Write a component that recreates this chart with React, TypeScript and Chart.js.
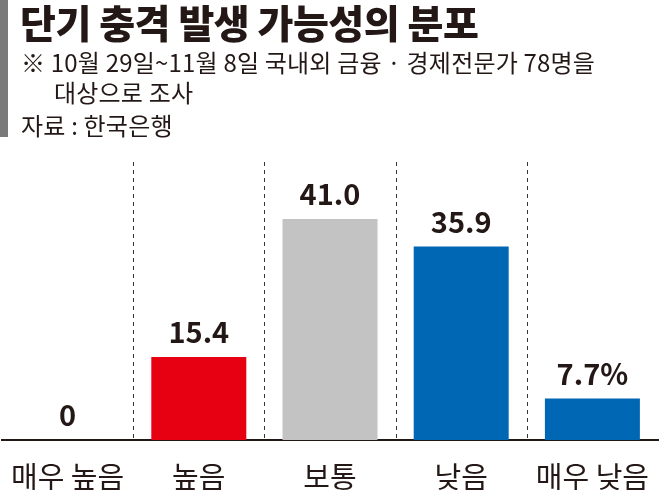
import React, { useEffect, useRef } from "react";
import { Chart, registerables } from "chart.js";

Chart.register(...registerables);

const categories = ["매우 높음", "높음", "보통", "낮음", "매우 낮음"];
const values = [0, 15.4, 41.0, 35.9, 7.7];
const valueLabels = ["0", "15.4", "41.0", "35.9", "7.7%"];
const barColors = ["#e60012", "#e60012", "#c3c3c3", "#0067b5", "#0067b5"];

const TITLE = "단기 충격 발생 가능성의 분포";
const NOTE1 = "※ 10월 29일~11월 8일 국내외 금융 · 경제전문가 78명을";
const NOTE2 = "대상으로 조사";
const SOURCE = "자료 : 한국은행";

const FONT = "'Noto Sans CJK KR', 'Noto Sans', sans-serif";

const extrasPlugin = {
  id: "extras",
  beforeDatasetsDraw(chart: any) {
    const { ctx, chartArea, scales } = chart;
    const x = scales.x;
    ctx.save();
    ctx.strokeStyle = "#333";
    ctx.lineWidth = 1;
    ctx.setLineDash([4, 4]);
    for (let i = 0; i < categories.length - 1; i++) {
      const px = Math.round((x.getPixelForValue(i) + x.getPixelForValue(i + 1)) / 2) + 0.5;
      ctx.beginPath();
      ctx.moveTo(px, chartArea.top);
      ctx.lineTo(px, chartArea.bottom);
      ctx.stroke();
    }
    ctx.restore();
  },
  afterDatasetsDraw(chart: any) {
    const { ctx, chartArea, scales } = chart;
    const meta = chart.getDatasetMeta(0);
    ctx.save();
    ctx.fillStyle = "#231815";
    ctx.font = `700 29px ${FONT}`;
    ctx.textAlign = "center";
    ctx.textBaseline = "alphabetic";
    meta.data.forEach((bar: any, i: number) => {
      ctx.fillText(valueLabels[i], bar.x, bar.y - 14);
    });
    ctx.font = `400 29px ${FONT}`;
    ctx.textBaseline = "middle";
    categories.forEach((c, i) => {
      ctx.fillText(c, scales.x.getPixelForValue(i), chartArea.bottom + 37);
    });
    ctx.restore();
  },
};

export default function App() {
  const ref = useRef<HTMLCanvasElement | null>(null);
  useEffect(() => {
    if (!ref.current) return;
    const chart = new Chart(ref.current, {
      type: "bar",
      data: {
        labels: categories,
        datasets: [
          {
            data: values,
            backgroundColor: barColors,
            borderWidth: 0,
            categoryPercentage: 1,
            barPercentage: 0.724,
          },
        ],
      },
      options: {
        animation: false,
        responsive: false,
        maintainAspectRatio: false,
        layout: { padding: { left: 2, right: 1, top: 162, bottom: 50 } },
        plugins: { legend: { display: false }, tooltip: { enabled: false }, title: { display: false } },
        scales: {
          x: {
            grid: { display: false, drawTicks: false, tickLength: 0 },
            border: { display: true, color: "#231815", width: 2 },
            ticks: { display: false, padding: 0 },
          },
          y: {
            display: false,
            min: 0,
            max: 51.6,
          },
        },
      },
      plugins: [extrasPlugin],
    });
    return () => chart.destroy();
  }, []);

  return (
    <div style={{ position: "fixed", left: 0, top: 0, width: 659, height: 490, background: "#fff", fontFamily: FONT, color: "#231815" }}>
      <canvas ref={ref} width={659} height={490} style={{ position: "absolute", left: 0, top: 0 }} />
      <div style={{ position: "absolute", left: 0, top: 0, width: 8, height: 137, background: "#7a7a7a" }} />
      <div style={{ position: "absolute", left: 20, top: 1, fontSize: 39, fontWeight: 900, whiteSpace: "nowrap", lineHeight: "40px", letterSpacing: -0.5 }}>{TITLE}</div>
      <div style={{ position: "absolute", left: 21, top: 48, fontSize: 24, whiteSpace: "nowrap", lineHeight: "28px", letterSpacing: 0.2 }}>{NOTE1}</div>
      <div style={{ position: "absolute", left: 54, top: 78, fontSize: 24, whiteSpace: "nowrap", lineHeight: "28px", letterSpacing: 0.2 }}>{NOTE2}</div>
      <div style={{ position: "absolute", left: 21, top: 111, fontSize: 24, whiteSpace: "nowrap", lineHeight: "28px", letterSpacing: 0.2 }}>{SOURCE}</div>
    </div>
  );
}
